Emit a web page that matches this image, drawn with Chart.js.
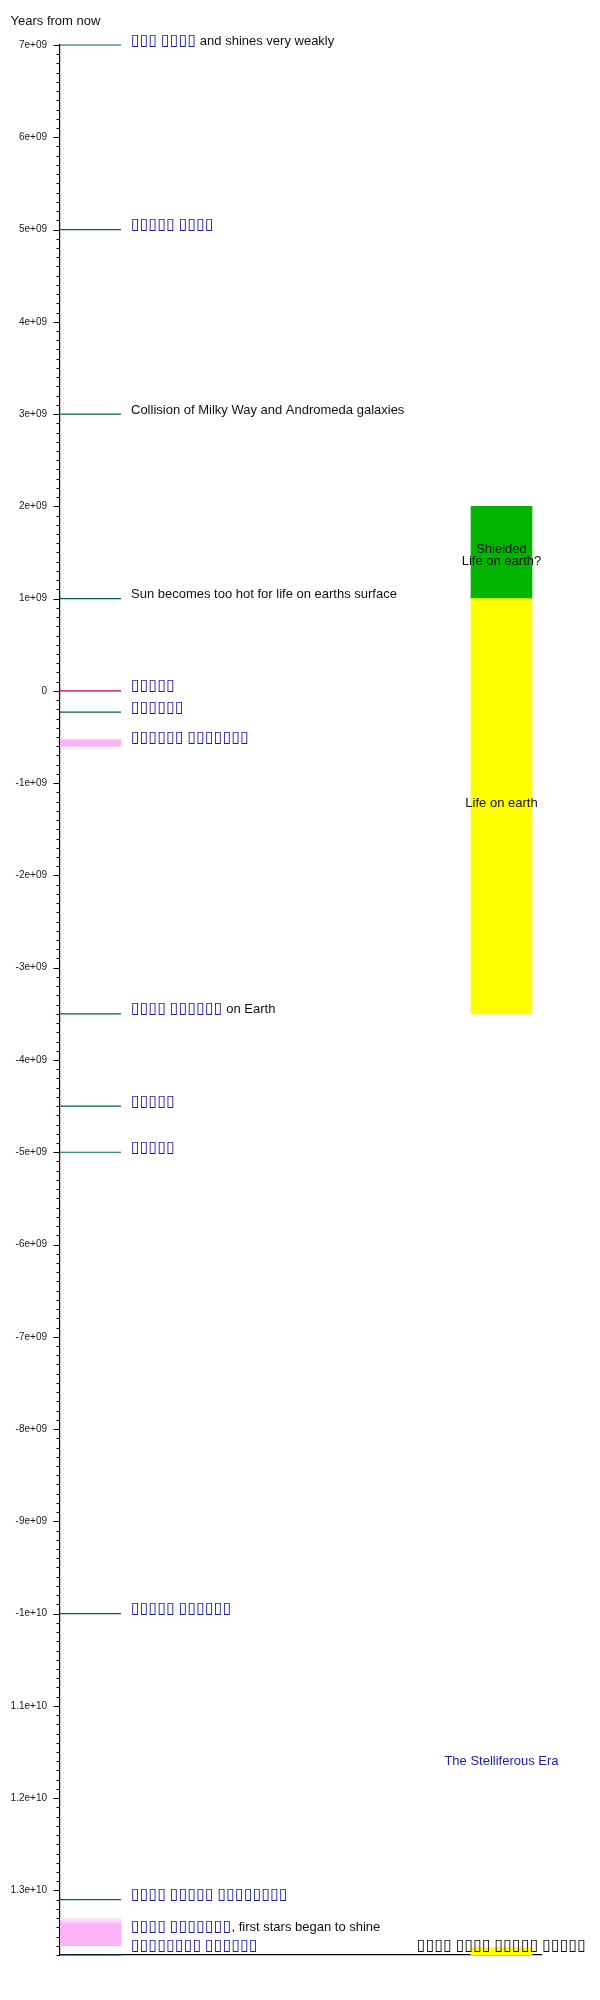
<!DOCTYPE html>
<html><head><meta charset="utf-8">
<script src="https://cdn.jsdelivr.net/npm/chart.js@4.4.0/dist/chart.umd.min.js"></script>
<style>html,body{margin:0;padding:0;background:#fff}#wrap{width:600px;height:2000px;position:relative}</style>
</head><body><div id="wrap"><canvas id="c" width="600" height="2000"></canvas></div>
<script>
// ---------- data ----------
const axisTitle = 'Years from now';
const axisMin = -1.37e10;
const axisMax = 7e9;
const majorStep = 1e9;
const minorStep = 1e8;

// left column: events (start == end -> line, otherwise band)
const eventStart = [7e9, 5e9, 3e9, 1e9, 0, -2.3e8, -5.2e8, -3.5e9, -4.5e9, -5e9, -1e10, -1.31e10, -1.33e10, -1.37e10];
const eventEnd   = [7e9, 5e9, 3e9, 1e9, 0, -2.3e8, -6.0e8, -3.5e9, -4.5e9, -5e9, -1e10, -1.31e10, -1.36e10, -1.37e10];
const eventKind  = ['event','event','event','event','now','event','band','event','event','event','event','event','band','event'];
const eventLabel = [
  '[▯▯▯ ▯▯▯▯] and shines very weakly',
  '[▯▯▯▯▯ ▯▯▯▯]',
  'Collision of Milky Way and Andromeda galaxies',
  'Sun becomes too hot for life on earths surface',
  '[▯▯▯▯▯]',
  '[▯▯▯▯▯▯]',
  '[▯▯▯▯▯▯ ▯▯▯▯▯▯▯]',
  '[▯▯▯▯ ▯▯▯▯▯▯] on Earth',
  '[▯▯▯▯▯]',
  '[▯▯▯▯▯]',
  '[▯▯▯▯▯ ▯▯▯▯▯▯]',
  '[▯▯▯▯ ▯▯▯▯▯ ▯▯▯▯▯▯▯▯]',
  '[▯▯▯▯ ▯▯▯▯▯▯▯], first stars began to shine',
  '[▯▯▯▯▯▯▯▯ ▯▯▯▯▯▯]'
];

// right column: periods
const periodStart = [1e9, -3.5e9, -1.37e10];
const periodEnd   = [2e9, 1e9, -1.362e10];
const periodKind  = ['shielded', 'life', 'life'];
const periodLabel = ['Shielded\nLife on earth?', 'Life on earth', '▯▯▯▯ ▯▯▯▯ ▯▯▯▯▯ ▯▯▯▯▯'];

const eraTitle = 'The Stelliferous Era';
const eraTitleValue = -1.16e10;

// ---------- styles / layout ----------
const X_MAX = 481;
const LEFT_COL = {from: 0, to: 61, center: 30.5, width: 61};
const LABEL_X = 71;
const RIGHT_COL = {center: 441.5, width: 61};
const COLORS = {
  event: '#00624e', now: '#c00018', band: '#fcb2f6',
  shielded: '#00b400', life: '#ffff00',
  link: '#1c1ca0', text: '#111111'
};
const TEXT_FONT = '13px "Liberation Sans", Arial, sans-serif';
const BOX_FONT = 'bold 16px "DejaVu Sans"';
const TICK_FONT_SIZE = 10;

// ---------- datasets ----------
const lineDatasets = [];
const bandData = [];
eventStart.forEach((s, i) => {
  if (s === eventEnd[i]) {
    lineDatasets.push({
      type: 'line', order: 0, clip: false,
      data: [{x: LEFT_COL.from, y: s}, {x: LEFT_COL.to, y: s}],
      borderColor: COLORS[eventKind[i]], borderWidth: 1.2,
      pointRadius: 0, fill: false, tension: 0
    });
  } else {
    bandData.push({x: LEFT_COL.center, y: [eventEnd[i], s]});
  }
});

function fadeTop(ctx, color) {
  const chart = ctx.chart;
  const ys = chart.scales && chart.scales.y;
  if (!ys || !ctx.raw || !chart.chartArea) return color;
  const top = ys.getPixelForValue(Math.max(ctx.raw.y[0], ctx.raw.y[1]));
  const bot = ys.getPixelForValue(Math.min(ctx.raw.y[0], ctx.raw.y[1]));
  if (!isFinite(top) || !isFinite(bot)) return color;
  const fade = Math.max(2, (bot - top) * 0.25);
  const g = chart.ctx.createLinearGradient(0, top - 1.5, 0, top + fade);
  g.addColorStop(0, 'rgba(252,178,246,0.1)');
  g.addColorStop(1, color);
  return g;
}

const bandDataset = {
  type: 'bar', order: 2, grouped: false,
  data: bandData,
  barThickness: LEFT_COL.width,
  backgroundColor: (ctx) => fadeTop(ctx, COLORS.band),
  borderWidth: 0
};
const periodDataset = {
  type: 'bar', order: 2, grouped: false,
  data: periodStart.map((s, i) => ({x: RIGHT_COL.center, y: [s, periodEnd[i]]})),
  barThickness: RIGHT_COL.width,
  backgroundColor: periodKind.map(k => COLORS[k]),
  borderWidth: 0
};

// ---------- text helpers ----------
function drawRich(ctx, str, x, y, baseColor, measureOnly) {
  const parts = [];
  const re = /\[([^\]]*)\]/g;
  let last = 0, m;
  while ((m = re.exec(str))) {
    if (m.index > last) parts.push({t: str.slice(last, m.index), link: false});
    parts.push({t: m[1], link: true});
    last = re.lastIndex;
  }
  if (last < str.length) parts.push({t: str.slice(last), link: false});
  let cx = x;
  parts.forEach(p => {
    const runs = p.t.match(/▯+|[^▯]+/g) || [];
    runs.forEach(r => {
      ctx.font = r[0] === '▯' ? BOX_FONT : TEXT_FONT;
      ctx.fillStyle = p.link ? COLORS.link : baseColor;
      if (!measureOnly) ctx.fillText(r, cx, y);
      cx += ctx.measureText(r).width;
    });
  });
  return cx - x;
}

const labelPlugin = {
  id: 'labels',
  afterDraw(chart) {
    const {ctx, chartArea} = chart;
    const ys = chart.scales.y, xs = chart.scales.x;
    ctx.save();
    ctx.strokeStyle = '#000';
    ctx.lineWidth = 1;
    ys.ticks.forEach(t => {
      const py = Math.round(ys.getPixelForValue(t.value)) + 0.5;
      const major = Math.abs(t.value % majorStep) < 1;
      const len = major ? 6.5 : 3.5;
      ctx.beginPath();
      ctx.moveTo(chartArea.left - len, py);
      ctx.lineTo(chartArea.left, py);
      ctx.stroke();
    });
    ctx.font = TEXT_FONT;
    ctx.fillStyle = COLORS.text;
    ctx.textBaseline = 'middle';
    ctx.textAlign = 'left';
    ctx.fillText(axisTitle, 10.5, 21.5);
    ctx.textBaseline = 'alphabetic';
    const lx = xs.getPixelForValue(LABEL_X);
    eventLabel.forEach((lab, i) => {
      const mid = (ys.getPixelForValue(eventStart[i]) + ys.getPixelForValue(eventEnd[i])) / 2;
      const base = Math.min(mid - 0.5, chartArea.bottom - 5);
      drawRich(ctx, lab, lx, base, COLORS.text);
    });
    const cxp = xs.getPixelForValue(RIGHT_COL.center);
    ctx.textBaseline = 'alphabetic';
    periodLabel.forEach((lab, i) => {
      const lines = lab.split('\n');
      const mid = (ys.getPixelForValue(periodStart[i]) + ys.getPixelForValue(periodEnd[i])) / 2;
      const lh = 12;
      const base = Math.min(mid + 1, chartArea.bottom - 5);
      lines.forEach((ln, j) => {
        const w = drawRich(ctx, ln, 0, 0, COLORS.text, true);
        drawRich(ctx, ln, cxp - w / 2, base + j * lh, COLORS.text);
      });
    });
    ctx.font = TEXT_FONT;
    ctx.fillStyle = COLORS.link;
    ctx.textAlign = 'center';
    ctx.textBaseline = 'middle';
    ctx.fillText(eraTitle, cxp, ys.getPixelForValue(eraTitleValue));
    ctx.restore();
  }
};

function fmtTick(v) {
  if (Math.abs(v % majorStep) >= 1) return '';
  if (v === 0) return '0';
  return v.toExponential().replace(/e([+-])(\d)$/, 'e$10$2');
}

new Chart(document.getElementById('c'), {
  type: 'bar',
  data: {datasets: [bandDataset, periodDataset, ...lineDatasets]},
  options: {
    responsive: false,
    animation: false,
    devicePixelRatio: 1,
    layout: {padding: {left: 10, right: 59, top: 45, bottom: 45}},
    plugins: {legend: {display: false}, tooltip: {enabled: false}, title: {display: false}},
    scales: {
      x: {
        type: 'linear', min: 0, max: X_MAX, offset: false,
        ticks: {display: false},
        grid: {display: false, drawTicks: false},
        border: {display: true, color: '#000', width: 1.2},
        afterFit: (s) => { s.height = 0; }
      },
      y: {
        type: 'linear', min: axisMin, max: axisMax, beginAtZero: false,
        afterFit: (s) => { s.width = 50; },
        ticks: {
          stepSize: minorStep, autoSkip: false, padding: 13,
          color: '#1a1a1a', font: {family: '"Liberation Sans", Arial, sans-serif', size: TICK_FONT_SIZE},
          callback: (v) => fmtTick(v)
        },
        grid: {drawOnChartArea: false, drawTicks: false},
        border: {display: true, color: '#000', width: 1.2}
      }
    }
  },
  plugins: [labelPlugin]
});
</script>
</body></html>
